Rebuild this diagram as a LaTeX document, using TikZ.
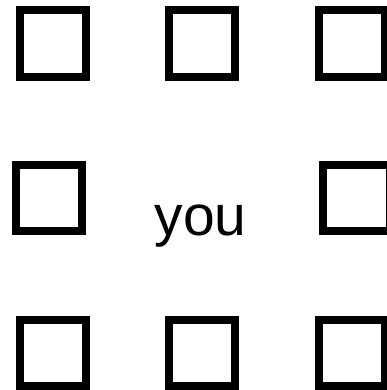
\documentclass[tikz,border=0pt]{standalone}
\usepackage{fontspec}
\setmainfont{Liberation Sans}
\begin{document}
\begin{tikzpicture}[x=1pt,y=1pt,
  box/.style={draw=black,line width=8pt,minimum size=66.5pt,inner sep=0pt,fill=white},
  label/.style={font=\fontsize{57}{60}\selectfont,inner sep=0pt,anchor=base}]
\useasboundingbox (0,0) rectangle (387,390);
\node[box] (b11) at (53,346.5) {};
\node[box] (b12) at (202,346.5) {};
\node[box] (b13) at (352,346.5) {};
\node[box] (b21) at (49,192) {};
\node[label] (you) at (200.5,154.3) {you};
\node[box] (b23) at (356.5,192) {};
\node[box] (b31) at (53,37) {};
\node[box] (b32) at (202,37) {};
\node[box] (b33) at (352,37) {};
\end{tikzpicture}
\end{document}
